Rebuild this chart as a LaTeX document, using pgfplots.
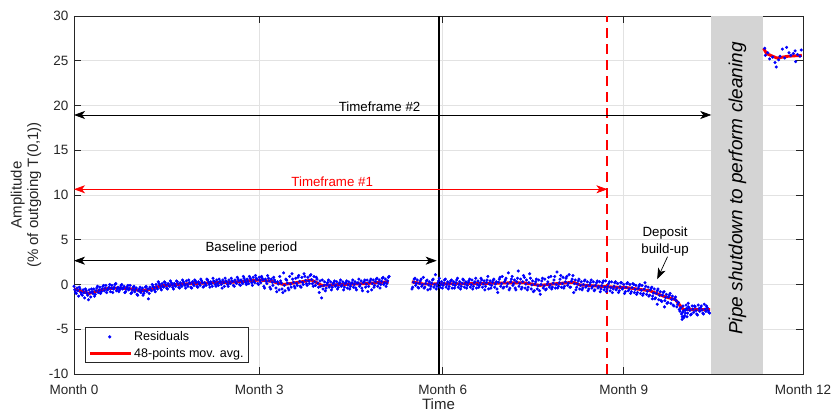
\documentclass[border=0pt]{standalone}
\usepackage{pgfplots}
\pgfplotsset{compat=1.18}
\usepackage{fontspec}
\setmainfont{Liberation Sans}
\usetikzlibrary{arrows.meta}
\definecolor{axc}{RGB}{38,38,38}
\definecolor{gridc}{RGB}{226,226,226}
\definecolor{bandc}{RGB}{212,212,212}
\begin{document}
\begin{tikzpicture}[x=1pt,y=1pt]
\useasboundingbox (-74,-40) rectangle (758,374);
\begin{axis}[at={(0,0)}, anchor=south west, scale only axis, width=729pt, height=358pt,
  xmin=0, xmax=12, ymin=-10, ymax=30,
  xtick={0,3.05,6.07,9.05,12}, xticklabels={Month 0,Month 3,Month 6,Month 9,Month 12},
  ytick={-10,-5,0,5,10,15,20,25,30}, yticklabels={-10,-5,0,5,10,15,20,25,30},
  grid=major, major grid style={gridc, line width=0.6pt},
  tick align=inside, major tick length=7pt,
  axis line style={axc, line width=0.6pt},
  every tick/.style={axc, line width=0.6pt},
  tick label style={font=\fontsize{13.5}{16}\selectfont, text=axc},
  xticklabel style={yshift=-7pt}, yticklabel style={xshift=-2pt},
  xlabel={Time}, ylabel={Amplitude\\(\% of outgoing T(0,1))},
  label style={font=\fontsize{15}{16.5}\selectfont, text=axc},
  ylabel style={at={(axis description cs:-0.0658,0.5)}, anchor=center, align=center},
  xlabel style={at={(axis description cs:0.5,-0.084)}, anchor=center},
  legend style={at={(axis description cs:0.0151,0.0307)}, anchor=south west, draw=axc, line width=0.6pt, fill=white, font=\fontsize{12.5}{14}\selectfont, inner xsep=3pt, inner ysep=2pt, row sep=2pt},
  legend cell align=left,
]
\fill[bandc] (axis cs:10.49,-10) rectangle (axis cs:11.34,30);
% residuals
\addplot[only marks, mark=*, mark size=1.35pt, color=blue, mark options={draw=blue, fill=blue},
  legend image code/.code={\fill[blue] (20pt,0pt) circle (1.3pt); \path[draw=none] (0pt,0pt) -- (41pt,0pt);}] coordinates {
(0,-0.2)(0.025,-0.9)(0.05,-0.4)(0.075,-1.3)(0.1,-0.5)(0.125,-1.1)(0.15,-0.6)(0.175,-1.5)(0.2,-0.7)(0.225,-1.2)(0.25,-0.6)(0.275,-1.4)(0.3,-0.8)(0.325,-0.5)(0.35,-1.1)(0.375,-0.4)(0.4,-0.9)(0.425,-0.3)(0.45,-0.8)(0.475,-0.2)(0.5,-0.7)(0.525,-0.1)(0.55,-0.6)(0.575,-0.3)(0.6,-0.8)(0.625,-0.1)(0.65,-0.5)(0.675,0.0)(0.7,-0.7)(0.725,-0.3)(0.75,-0.6)(0.775,-0.1)(0.8,-0.5)(0.825,-0.2)(0.85,-0.8)(0.875,-0.3)(0.9,-0.6)(0.925,-0.1)(0.95,-0.9)(0.975,-0.3)(1.0,-0.8)(1.025,-0.4)(1.05,-1.2)(1.075,-0.5)(1.1,-0.9)(1.125,-0.4)(1.15,-1.0)(1.175,-0.3)(1.2,-0.8)(1.225,-1.6)(1.25,-0.3)(1.275,-0.7)(1.3,-0.2)(1.325,-0.6)(1.35,0.0)(1.375,-0.5)(1.4,0.1)(1.425,-0.4)(1.45,0.1)(1.475,-0.3)(1.5,0.2)(1.525,-0.4)(1.55,0.1)(1.575,-0.2)(1.6,0.2)(1.625,-0.3)(1.65,0.1)(1.675,-0.2)(1.7,0.3)(1.725,-0.3)(1.75,0.2)(1.775,-0.2)(1.8,0.3)(1.825,-0.1)(1.85,0.4)(1.875,-0.2)(1.9,0.2)(1.925,-0.3)(1.95,0.3)(1.975,-0.1)(2.0,0.4)(2.025,-0.2)(2.05,0.3)(2.075,-0.1)(2.1,0.4)(2.125,-0.3)(2.15,0.2)(2.175,-0.1)(2.2,0.5)(2.225,0.0)(2.25,0.3)(2.275,-0.2)(2.3,0.4)(2.325,0.0)(2.35,0.5)(2.375,-0.1)(2.4,0.3)(2.425,0.0)(2.45,0.5)(2.475,-0.2)(2.5,0.4)(2.525,0.0)(2.55,0.5)(2.575,0.1)(2.6,0.4)(2.625,-0.1)(2.65,0.5)(2.675,0.1)(2.7,0.6)(2.725,0.0)(2.75,0.5)(2.775,0.1)(2.8,0.7)(2.825,0.2)(2.85,0.6)(2.875,0.1)(2.9,0.7)(2.925,0.2)(2.95,0.8)(2.975,0.2)(3.0,0.7)(3.025,0.1)(3.05,0.8)(3.075,0.2)(3.1,0.7)(3.125,-0.2)(3.15,0.6)(3.175,0.1)(3.2,0.7)(3.225,-0.3)(3.25,0.6)(3.275,-0.1)(3.3,0.5)(3.325,-0.4)(3.35,0.3)(3.375,-0.6)(3.4,0.4)(3.425,-0.5)(3.45,1.3)(3.475,-0.7)(3.5,0.5)(3.525,-0.4)(3.55,0.9)(3.575,-0.3)(3.6,0.6)(3.625,-0.2)(3.65,0.7)(3.675,-0.1)(3.7,1.0)(3.725,-0.2)(3.75,0.8)(3.775,0.0)(3.8,0.9)(3.825,0.1)(3.85,0.8)(3.875,0.1)(3.9,1.1)(3.925,0.1)(3.95,0.9)(3.975,-0.1)(4.0,0.6)(4.025,-0.3)(4.05,0.4)(4.075,-1.5)(4.1,-0.5)(4.125,0.3)(4.15,-0.4)(4.175,0.2)(4.2,-0.3)(4.225,0.3)(4.25,-0.3)(4.275,0.2)(4.3,-0.2)(4.325,0.3)(4.35,-0.3)(4.375,0.2)(4.4,-0.2)(4.425,0.3)(4.45,-0.3)(4.475,0.2)(4.5,-0.4)(4.525,0.3)(4.55,-0.2)(4.575,0.2)(4.6,-0.3)(4.625,0.3)(4.65,-0.6)(4.675,0.2)(4.7,-0.2)(4.725,0.4)(4.75,-0.7)(4.775,0.3)(4.8,-0.3)(4.825,0.5)(4.85,-0.2)(4.875,0.4)(4.9,-0.6)(4.925,0.5)(4.95,-0.1)(4.975,0.6)(5.0,-0.2)(5.025,0.5)(5.05,0.0)(5.075,0.7)(5.1,0.0)(5.125,0.6)(5.15,0.1)(5.175,0.8)
(0.0125,-0.6)(0.0625,-0.7)(0.1125,-0.9)(0.1625,-0.9)(0.2125,-1.0)(0.2625,-0.9)(0.3125,-1.0)(0.3625,-0.7)(0.4125,-0.6)(0.4625,-0.5)(0.5125,-0.4)(0.5625,-0.5)(0.6125,-0.4)(0.6625,-0.3)(0.7125,-0.45)(0.7625,-0.35)(0.8125,-0.4)(0.8625,-0.5)(0.9125,-0.45)(0.9625,-0.6)(1.0125,-0.55)(1.0625,-0.7)(1.1125,-0.65)(1.1625,-0.7)(1.2125,-0.5)(1.2625,-0.55)(1.3125,-0.3)(1.3625,-0.3)(1.4125,-0.1)(1.4625,-0.2)(1.5125,-0.05)(1.5625,-0.15)(1.6125,0.0)(1.6625,-0.1)(1.7125,0.05)(1.7625,-0.05)(1.8125,0.1)(1.8625,0.0)(1.9125,0.15)(1.9625,0.05)(2.0125,0.2)(2.0625,0.05)(2.1125,0.2)(2.1625,0.1)(2.2125,0.25)(2.2625,0.1)(2.3125,0.3)(2.3625,0.15)(2.4125,0.3)(2.4625,0.2)(2.5125,0.3)(2.5625,0.2)(2.6125,0.35)(2.6625,0.25)(2.7125,0.4)(2.7625,0.3)(2.8125,0.45)(2.8625,0.35)(2.9125,0.5)(2.9625,0.4)(3.0125,0.55)(3.0625,0.45)(3.1125,0.5)(3.1625,0.35)(3.2125,0.4)(3.2625,0.25)(3.3125,0.3)(3.3625,0.05)(3.4125,0.15)(3.4625,-0.1)(3.5125,0.15)(3.5625,0.05)(3.6125,0.25)(3.6625,0.15)(3.7125,0.35)(3.7625,0.25)(3.8125,0.45)(3.8625,0.4)(3.9125,0.55)(3.9625,0.3)(4.0125,0.15)(4.0625,-0.2)(4.1125,-0.1)(4.1625,0.0)(4.2125,-0.1)(4.2625,0.05)(4.3125,-0.05)(4.3625,0.05)(4.4125,-0.05)(4.4625,0.1)(4.5125,-0.05)(4.5625,0.1)(4.6125,0.0)(4.6625,0.15)(4.7125,0.0)(4.7625,0.2)(4.8125,0.05)(4.8625,0.25)(4.9125,0.1)(4.9625,0.3)(5.0125,0.15)(5.0625,0.35)(5.1125,0.2)(5.1625,0.4)
(0.0375,-1.0)(0.0875,-0.3)(0.1375,-1.2)(0.1875,-0.5)(0.2375,-1.7)(0.2875,-0.5)(0.3375,-1.3)(0.3875,-0.2)(0.4375,-1.0)(0.4875,-0.1)(0.5375,-0.9)(0.5875,0.0)(0.6375,-0.9)(0.6875,0.1)(0.7375,-0.8)(0.7875,0.0)(0.8375,-0.9)(0.8875,-0.1)(0.9375,-1.0)(0.9875,-0.2)(1.0375,-1.1)(1.0875,-0.3)(1.1375,-1.2)(1.1875,-0.2)(1.2375,-1.0)(1.2875,0.0)(1.3375,-0.8)(1.3875,0.3)(1.4375,-0.6)(1.4875,0.3)(1.5375,-0.5)(1.5875,0.4)(1.6375,-0.5)(1.6875,0.4)(1.7375,-0.4)(1.7875,0.5)(1.8375,-0.4)(1.8875,0.5)(1.9375,-0.4)(1.9875,0.5)(2.0375,-0.3)(2.0875,0.6)(2.1375,-0.2)(2.1875,0.6)(2.2375,-0.3)(2.2875,0.7)(2.3375,-0.2)(2.3875,0.6)(2.4375,-0.4)(2.4875,0.7)(2.5375,-0.2)(2.5875,0.7)(2.6375,-0.2)(2.6875,0.8)(2.7375,-0.1)(2.7875,0.9)(2.8375,0.0)(2.8875,0.9)(2.9375,-0.1)(2.9875,1.0)(3.0375,0.0)(3.0875,0.9)(3.1375,-0.4)(3.1875,1.0)(3.2375,-0.5)(3.2875,0.8)(3.3375,-0.8)(3.3875,0.9)(3.4375,-0.9)(3.4875,0.6)(3.5375,-0.6)(3.5875,1.2)(3.6375,-0.4)(3.6875,0.8)(3.7375,-0.3)(3.7875,1.2)(3.8375,-0.1)(3.8875,1.0)(3.9375,-0.2)(3.9875,0.8)(4.0375,-0.9)(4.0875,0.5)(4.1375,-0.7)(4.1875,0.5)(4.2375,-0.6)(4.2875,0.4)(4.3375,-0.5)(4.3875,0.5)(4.4375,-0.6)(4.4875,0.4)(4.5375,-0.5)(4.5875,0.5)(4.6375,-0.4)(4.6875,0.6)(4.7375,-0.4)(4.7875,0.5)(4.8375,-0.8)(4.8875,0.6)(4.9375,-0.3)(4.9875,0.7)(5.0375,-0.4)(5.0875,0.8)(5.1375,-0.2)(5.1875,0.9)
(5.575,-0.3)(5.6,0.6)(5.625,-0.1)(5.65,0.5)(5.675,-0.4)(5.7,0.4)(5.725,-0.2)(5.75,0.8)(5.775,-0.3)(5.8,0.4)(5.825,-0.6)(5.85,0.3)(5.875,-0.2)(5.9,0.5)(5.925,-0.3)(5.95,1.1)(5.975,-0.2)(6.0,0.4)(6.025,-0.3)(6.05,0.3)(6.075,-0.1)(6.1,0.5)(6.125,-0.3)(6.15,0.3)(6.175,-0.2)(6.2,0.4)(6.225,-0.4)(6.25,0.3)(6.275,-0.1)(6.3,0.5)(6.325,-0.3)(6.35,0.3)(6.375,-0.2)(6.4,0.6)(6.425,-0.3)(6.45,0.3)(6.475,-0.1)(6.5,0.4)(6.525,-0.3)(6.55,0.5)(6.575,-0.2)(6.6,0.3)(6.625,-0.4)(6.65,0.4)(6.675,-0.1)(6.7,0.7)(6.725,-0.3)(6.75,0.4)(6.775,-0.2)(6.8,0.5)(6.825,-0.5)(6.85,0.4)(6.875,-0.1)(6.9,0.5)(6.925,-0.3)(6.95,0.3)(6.975,-0.9)(7.0,0.6)(7.025,-0.2)(7.05,0.9)(7.075,-0.3)(7.1,0.5)(7.125,-0.2)(7.15,1.3)(7.175,-0.4)(7.2,0.6)(7.225,-0.1)(7.25,0.5)(7.275,-0.6)(7.3,0.7)(7.325,-0.2)(7.35,0.6)(7.375,-0.3)(7.4,1.0)(7.425,-0.4)(7.45,0.5)(7.475,-0.3)(7.5,1.2)(7.525,-0.5)(7.55,0.4)(7.575,-0.7)(7.6,0.3)(7.625,-0.5)(7.65,0.5)(7.675,-1.1)(7.7,0.4)(7.725,-0.4)(7.75,0.6)(7.775,-0.5)(7.8,0.3)(7.825,-0.3)(7.85,0.9)(7.875,-0.3)(7.9,0.5)(7.925,-0.4)(7.95,1.4)(7.975,-0.2)(8.0,0.6)(8.025,-0.3)(8.05,0.8)(8.075,-0.2)(8.1,0.7)(8.125,-0.1)(8.15,1.1)(8.175,-0.3)(8.2,0.6)(8.225,-0.9)(8.25,0.5)(8.275,-0.3)(8.3,0.4)(8.325,-0.5)(8.35,0.3)(8.375,-0.4)(8.4,0.4)(8.425,-0.3)(8.45,0.3)(8.475,-0.5)(8.5,0.2)(8.525,-0.4)(8.55,0.3)(8.575,-0.6)(8.6,0.2)(8.625,-0.4)(8.65,0.3)(8.675,-0.5)(8.7,0.2)(8.725,-0.6)(8.75,0.4)(8.775,-0.5)(8.8,0.1)(8.825,-0.7)(8.85,0.3)(8.875,-0.5)(8.9,0.2)(8.925,-0.6)(8.95,0.1)(8.975,-0.7)(9.0,0.2)(9.025,-0.5)(9.05,0.0)(9.075,-0.8)(9.1,0.1)(9.125,-0.7)(9.15,0.0)(9.175,-0.8)(9.2,0.1)(9.225,-0.9)(9.25,-0.1)(9.275,-0.9)(9.3,-0.2)(9.325,-1.0)(9.35,-0.1)(9.375,-1.0)(9.4,0.2)(9.425,-1.1)(9.45,-0.3)(9.475,-1.2)(9.5,-0.4)(9.525,-1.3)(9.55,-0.5)(9.575,-1.5)(9.6,-0.7)(9.625,-1.7)(9.65,-0.8)(9.675,-1.9)(9.7,-0.9)(9.725,-1.8)(9.75,-1.1)(9.775,-2.0)(9.8,-1.2)(9.825,-2.1)(9.85,-1.3)(9.875,-2.4)(9.9,-1.4)(9.925,-2.5)(9.95,-2.0)(9.975,-3.0)(10.0,-3.3)(10.025,-2.4)(10.05,-3.5)(10.075,-2.3)(10.1,-3.2)(10.125,-2.6)(10.15,-3.4)(10.175,-2.4)(10.2,-3.1)(10.225,-2.5)(10.25,-3.3)(10.275,-2.3)(10.3,-3.0)(10.325,-2.4)(10.35,-3.2)(10.375,-2.2)(10.4,-3.0)(10.425,-2.6)(10.45,-3.1)
(10.01,-3.9)(10.04,-3.7)(10.06,-2.9)(10.09,-3.6)(10.11,-2.1)(10.02,-3.1)(10.08,-2.7)(9.6,-2.2)(9.72,-2.5)(9.52,-1.6)
(5.5875,0.25)(5.6375,0.15)(5.6875,0.1)(5.7375,0.0)(5.7875,0.1)(5.8375,-0.05)(5.8875,0.15)(5.9375,0.0)(5.9875,0.15)(6.0375,0.0)(6.0875,0.15)(6.1375,0.0)(6.1875,0.15)(6.2375,0.0)(6.2875,0.2)(6.3375,0.0)(6.3875,0.15)(6.4375,0.05)(6.4875,0.2)(6.5375,0.0)(6.5875,0.2)(6.6375,0.0)(6.6875,0.2)(6.7375,0.05)(6.7875,0.2)(6.8375,0.05)(6.8875,0.25)(6.9375,0.05)(6.9875,0.25)(7.0375,0.1)(7.0875,0.3)(7.1375,0.1)(7.1875,0.3)(7.2375,0.1)(7.2875,0.3)(7.3375,0.1)(7.3875,0.3)(7.4375,0.05)(7.4875,0.2)(7.5375,-0.05)(7.5875,0.05)(7.6375,-0.15)(7.6875,0.0)(7.7375,-0.15)(7.7875,0.05)(7.8375,-0.05)(7.8875,0.15)(7.9375,0.0)(7.9875,0.2)(8.0375,0.1)(8.0875,0.3)(8.1375,0.15)(8.1875,0.35)(8.2375,0.1)(8.2875,0.05)(8.3375,-0.1)(8.3875,0.0)(8.4375,-0.15)(8.4875,-0.05)(8.5375,-0.2)(8.5875,-0.1)(8.6375,-0.25)(8.6875,-0.15)(8.7375,-0.3)(8.7875,-0.2)(8.8375,-0.35)(8.8875,-0.2)(8.9375,-0.4)(8.9875,-0.25)(9.0375,-0.4)(9.0875,-0.3)(9.1375,-0.5)(9.1875,-0.35)(9.2375,-0.55)(9.2875,-0.45)(9.3375,-0.65)(9.3875,-0.5)(9.4375,-0.75)(9.4875,-0.6)(9.5375,-0.95)(9.5875,-1.0)(9.6375,-1.2)(9.6875,-1.2)(9.7375,-1.45)(9.7875,-1.4)(9.8375,-1.65)(9.8875,-1.6)(9.9375,-2.2)(9.9875,-2.6)(10.0375,-2.9)(10.0875,-2.8)(10.1375,-2.9)(10.1875,-2.75)(10.2375,-2.9)(10.2875,-2.7)(10.3375,-2.85)(10.3875,-2.75)(10.4375,-2.9)
(5.5625,-0.5)(5.6125,0.7)(5.6625,-0.3)(5.7125,0.6)(5.7625,-0.4)(5.8125,0.5)(5.8625,-0.5)(5.9125,0.6)(5.9625,-0.5)(6.0125,0.7)(6.0625,-0.4)(6.1125,0.6)(6.1625,-0.5)(6.2125,0.5)(6.2625,-0.4)(6.3125,0.7)(6.3625,-0.5)(6.4125,0.5)(6.4625,-0.4)(6.5125,0.6)(6.5625,-0.5)(6.6125,0.7)(6.6625,-0.3)(6.7125,0.5)(6.7625,-0.6)(6.8125,0.9)(6.8625,-0.4)(6.9125,0.6)(6.9625,-0.5)(7.0125,0.8)(7.0625,-0.4)(7.1125,0.7)(7.1625,-0.6)(7.2125,0.9)(7.2625,-0.4)(7.3125,1.5)(7.3625,-0.5)(7.4125,0.8)(7.4625,-0.6)(7.5125,0.7)(7.5625,-0.8)(7.6125,0.6)(7.6625,-0.7)(7.7125,0.7)(7.7625,-0.6)(7.8125,0.8)(7.8625,-0.5)(7.9125,0.9)(7.9625,-0.4)(8.0125,1.0)(8.0625,-0.4)(8.1125,0.9)(8.1625,-0.3)(8.2125,1.0)(8.2625,-0.6)(8.3125,0.6)(8.3625,-0.6)(8.4125,0.5)(8.4625,-0.7)(8.5125,0.5)(8.5625,-0.7)(8.6125,0.4)(8.6625,-0.8)(8.7125,0.4)(8.7625,-0.8)(8.8125,0.3)(8.8625,-0.9)(8.9125,0.3)(8.9625,-0.9)(9.0125,0.2)(9.0625,-1.0)(9.1125,0.2)(9.1625,-1.0)(9.2125,0.0)(9.2625,-1.1)(9.3125,0.0)(9.3625,-1.2)(9.4125,-0.2)(9.4625,-1.3)(9.5125,-0.3)(9.5625,-1.6)(9.6125,-0.5)(9.6625,-1.8)(9.7125,-0.8)(9.7625,-2.1)(9.8125,-1.0)(9.8625,-2.3)(9.9125,-1.8)(9.9625,-2.8)(10.0125,-3.6)(10.0625,-3.2)(10.1125,-2.5)(10.1625,-3.3)(10.2125,-2.4)(10.2625,-3.4)(10.3125,-2.6)(10.3625,-3.3)(10.4125,-2.4)(10.4625,-3.2)
(11.37,26.4)(11.38,25.6)(11.45,25.2)(11.54,24.8)(11.56,24.3)(11.66,26.3)(11.73,26.5)(11.87,26.1)(11.88,24.9)(11.91,25.7)(11.97,26.2)(11.42,25.9)(11.5,25.4)(11.62,25.5)(11.7,25.3)(11.8,25.6)(11.84,25.8)(11.95,25.5)(11.6,25.1)(11.77,25.9)
};
\addlegendentry{Residuals}
% moving average
\addplot[red, line width=2.9pt, line join=round,
  legend image code/.code={\draw[red,line width=2.9pt] (0pt,0pt) -- (41pt,0pt);}] coordinates {
(0,-0.5)(0.1,-0.7)(0.25,-1.0)(0.4,-0.7)(0.55,-0.45)(0.75,-0.4)(0.95,-0.5)(1.1,-0.7)(1.25,-0.55)(1.42,-0.15)(1.8,0.05)(2.3,0.2)(2.6,0.25)(3.06,0.5)(3.25,0.35)(3.45,0.0)(3.7,0.25)(3.91,0.5)(4.08,-0.1)(4.4,0.0)(4.8,0.1)(5.18,0.3)};
\addlegendentry{48-points mov. avg.}
\addplot[red, line width=2.9pt, line join=round, forget plot] coordinates {
(5.56,0.3)(5.75,0.05)(6.2,0.08)(6.69,0.1)(7.0,0.16)(7.4,0.2)(7.67,-0.1)(7.9,0.07)(8.22,0.25)(8.33,-0.05)(8.77,-0.25)(9.1,-0.35)(9.48,-0.7)(9.7,-1.3)(9.9,-1.7)(10.03,-2.8)(10.47,-2.8)};
\addplot[red, line width=2.9pt, line join=round, forget plot] coordinates {
(11.35,26.4)(11.4,25.8)(11.57,25.3)(11.75,25.5)(11.98,25.6)};
% vertical markers
\addplot[black, line width=1.6pt, forget plot] coordinates {(6.01,-10)(6.01,30)};
\addplot[red, line width=1.8pt, dash pattern=on 10pt off 6pt, forget plot] coordinates {(8.78,-10)(8.78,30)};
% arrows
\draw[black, line width=0.7pt, {Stealth[length=11pt,width=8pt,inset=3pt]}-{Stealth[length=11pt,width=8pt,inset=3pt]}] (axis cs:0,18.94) -- (axis cs:10.49,18.94);
\draw[red, line width=0.7pt, {Stealth[length=11pt,width=8pt,inset=3pt]}-{Stealth[length=11pt,width=8pt,inset=3pt]}] (axis cs:0,10.64) -- (axis cs:8.78,10.64);
\draw[black, line width=0.7pt, {Stealth[length=11pt,width=8pt,inset=3pt]}-{Stealth[length=11pt,width=8pt,inset=3pt]}] (axis cs:0,2.66) -- (axis cs:5.97,2.66);
\draw[black, line width=0.7pt, -{Stealth[length=11pt,width=8pt,inset=3pt]}] (axis cs:9.77,3.1) -- (axis cs:9.6,0.6);
% texts
\node[anchor=base, font=\fontsize{13.3}{15}\selectfont] at (axis cs:5.03,19.31) {Timeframe \#2};
\node[anchor=base, font=\fontsize{13.3}{15}\selectfont, text=red] at (axis cs:4.25,11.0) {Timeframe \#1};
\node[anchor=base, font=\fontsize{13.3}{15}\selectfont] at (axis cs:2.92,3.66) {Baseline period};
\node[anchor=base, font=\fontsize{13.3}{15}\selectfont] at (axis cs:9.73,5.34) {Deposit};
\node[anchor=base, font=\fontsize{13.3}{15}\selectfont] at (axis cs:9.73,3.49) {build-up};
\node[rotate=90, font=\fontsize{19}{22}\selectfont\itshape] at (axis cs:10.92,10.73) {Pipe shutdown to perform cleaning};
\end{axis}
\end{tikzpicture}
\end{document}
